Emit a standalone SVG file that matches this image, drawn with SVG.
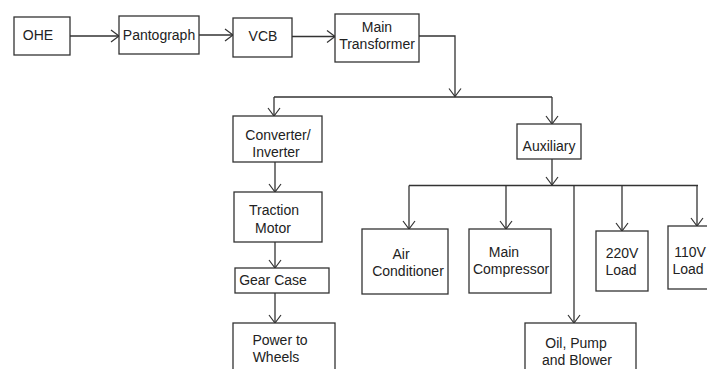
<svg xmlns="http://www.w3.org/2000/svg" width="707" height="369" viewBox="0 0 707 369">
<style>
.box{fill:#fff;stroke:#333;stroke-width:1.3}
.ln{fill:none;stroke:#333;stroke-width:1.3;marker-end:url(#ah)}
.pl{fill:none;stroke:#333;stroke-width:1.3}
text{font-family:"Liberation Sans",Arial,sans-serif;font-size:14px;fill:#222;text-anchor:middle}
</style>
<defs>
<marker id="ah" markerUnits="userSpaceOnUse" markerWidth="20" markerHeight="20" viewBox="-10 -10 20 20" refX="0" refY="0" orient="auto" overflow="visible">
<path d="M-8,-6 L0,0 L-8,6" fill="none" stroke="#333" stroke-width="1.2"/>
</marker>
</defs>
<rect width="707" height="369" fill="#fff"/>
<g id="connectors">
<line class="ln" x1="70" y1="36" x2="119" y2="36"/>
<line class="ln" x1="199" y1="35" x2="233" y2="35"/>
<line class="ln" x1="292" y1="36.5" x2="335" y2="36.5"/>
<polyline class="ln" points="419,36 455,36 455,96.5"/>
<polyline class="pl" points="274,97 552,97"/>
<line class="ln" x1="274" y1="97" x2="274" y2="116"/>
<line class="ln" x1="552" y1="97" x2="552" y2="124"/>
<line class="ln" x1="552" y1="159" x2="552" y2="185"/>
<polyline class="pl" points="409,185.5 698,185.5"/>
<line class="ln" x1="409" y1="185.5" x2="409" y2="229"/>
<line class="ln" x1="506" y1="185.5" x2="506" y2="229"/>
<line class="ln" x1="574" y1="185.5" x2="574" y2="323"/>
<line class="ln" x1="622" y1="185.5" x2="622" y2="231"/>
<line class="ln" x1="697" y1="185.5" x2="697" y2="226"/>
<line class="ln" x1="275" y1="162" x2="275" y2="192"/>
<line class="ln" x1="275" y1="242" x2="275" y2="268"/>
<line class="ln" x1="275" y1="293" x2="275" y2="323"/>
</g>
<g id="ohe"><rect class="box" x="14" y="17" width="56" height="38"/><text x="38" y="40">OHE</text></g>
<g id="pantograph"><rect class="box" x="119" y="16" width="80" height="38"/><text x="159" y="40">Pantograph</text></g>
<g id="vcb"><rect class="box" x="233" y="18" width="59" height="39"/><text x="263" y="41">VCB</text></g>
<g id="transformer"><rect class="box" x="335" y="14" width="84" height="48"/><text x="377" y="32">Main</text><text x="377" y="49">Transformer</text></g>
<g id="converter"><rect class="box" x="233" y="116" width="89" height="46"/><text x="278" y="140">Converter/</text><text x="276" y="157">Inverter</text></g>
<g id="auxiliary"><rect class="box" x="517" y="124" width="64" height="35"/><text x="549" y="151">Auxiliary</text></g>
<g id="traction"><rect class="box" x="234" y="192" width="88" height="50"/><text x="274" y="215">Traction</text><text x="273" y="233">Motor</text></g>
<g id="gearcase"><rect class="box" x="235" y="268" width="94" height="25"/><text x="273" y="285">Gear Case</text></g>
<g id="wheels"><rect class="box" x="233" y="323" width="102" height="50"/><text x="280" y="345">Power to</text><text x="276" y="362">Wheels</text></g>
<g id="aircon"><rect class="box" x="362" y="229" width="86" height="65"/><text x="401" y="259">Air</text><text x="408" y="276">Conditioner</text></g>
<g id="compressor"><rect class="box" x="469" y="229" width="82" height="64"/><text x="504" y="257">Main</text><text x="511" y="274">Compressor</text></g>
<g id="oil"><rect class="box" x="525" y="323" width="111" height="50"/><text x="576" y="348">Oil, Pump</text><text x="577" y="365">and Blower</text></g>
<g id="load220"><rect class="box" x="596" y="231" width="52" height="60"/><text x="622" y="258">220V</text><text x="621" y="275">Load</text></g>
<g id="load110"><rect class="box" x="668" y="226" width="45" height="63"/><text x="690" y="257">110V</text><text x="688" y="274">Load</text></g>
</svg>
